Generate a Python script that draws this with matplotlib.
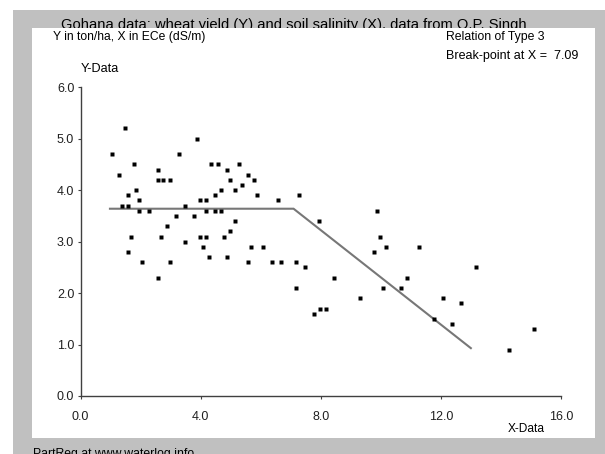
import matplotlib
matplotlib.use("Agg")
import matplotlib.pyplot as plt
from matplotlib.patches import Rectangle

# ---------------- data ----------------
salinity_x = [1.48, 3.89, 1.06, 3.28, 1.77, 2.57, 1.28, 2.57, 2.76, 2.98,
              1.86, 1.58, 1.96, 3.98, 4.17, 1.39, 1.58, 3.47, 1.96, 2.28,
              4.17, 3.18, 3.79, 2.89, 1.67, 2.67, 3.98, 4.17, 3.47, 4.08,
              1.57, 4.27, 2.06, 2.98, 2.57, 4.35, 4.59, 5.26, 4.87, 5.57,
              4.97, 5.76, 5.38, 4.68, 5.15, 4.49, 5.86, 6.56, 7.27, 4.49,
              4.68, 5.15, 4.97, 4.78, 5.67, 6.08, 4.88, 5.57, 6.37, 6.66,
              7.17, 7.46, 7.17, 7.95, 9.86, 9.96, 10.18, 11.26, 9.77, 13.15,
              8.45, 10.88, 10.06, 10.66, 9.29, 12.06, 7.97, 8.16, 7.78, 12.67,
              11.77, 12.35, 15.08, 14.27]
yield_y = [5.2, 5.0, 4.7, 4.7, 4.5, 4.4, 4.3, 4.2, 4.2, 4.2,
           4.0, 3.9, 3.8, 3.8, 3.8, 3.7, 3.7, 3.7, 3.6, 3.6,
           3.6, 3.5, 3.5, 3.3, 3.1, 3.1, 3.1, 3.1, 3.0, 2.9,
           2.8, 2.7, 2.6, 2.6, 2.3, 4.5, 4.5, 4.5, 4.4, 4.3,
           4.2, 4.2, 4.1, 4.0, 4.0, 3.9, 3.9, 3.8, 3.9, 3.6,
           3.6, 3.4, 3.2, 3.1, 2.9, 2.9, 2.7, 2.6, 2.6, 2.6,
           2.6, 2.5, 2.1, 3.4, 3.6, 3.1, 2.9, 2.9, 2.8, 2.5,
           2.3, 2.3, 2.1, 2.1, 1.9, 1.9, 1.7, 1.7, 1.6, 1.8,
           1.5, 1.4, 1.3, 0.9]
fit_x = [0.98, 7.09, 12.99]
fit_y = [3.64, 3.64, 0.93]

x_ticks = [0, 4, 8, 12, 16]
x_ticklabels = ["0.0", "4.0", "8.0", "12.0", "16.0"]
y_ticks = [0, 1, 2, 3, 4, 5, 6]
y_ticklabels = ["0.0", "1.0", "2.0", "3.0", "4.0", "5.0", "6.0"]

title = "Gohana data: wheat yield (Y) and soil salinity (X), data from O.P. Singh"
subtitle = "Y in ton/ha, X in ECe (dS/m)"
relation = "Relation of Type 3"
breakpoint_txt = "Break-point at X =  7.09"
footer = "PartReg at www.waterlog.info"

# ---------------- layout ----------------
W, H = 605, 454
FONT = ["Liberation Sans", "DejaVu Sans"]
plt.rcParams["font.family"] = FONT

fig = plt.figure(figsize=(W / 100, H / 100), dpi=100)
fig.patch.set_facecolor("white")


def fx(x):
    return x / W


def fy(y):
    return 1 - y / H


# gray frame and white panel
fig.patches.append(Rectangle((fx(12.5), 0), 1 - fx(12.5), fy(10), transform=fig.transFigure,
                             facecolor="#c0c0c0", edgecolor="none", zorder=0))
fig.patches.append(Rectangle((fx(32), fy(438)), fx(595) - fx(32), fy(28.3) - fy(438),
                             transform=fig.transFigure, facecolor="white",
                             edgecolor="none", zorder=1))

renderer = fig.canvas.get_renderer()


def fit_text(s, x, y_base, width, zorder=2, ha="left"):
    t = fig.text(fx(x), fy(y_base), s, fontsize=10, ha=ha, va="baseline",
                 color="black", zorder=zorder)
    w = t.get_window_extent(renderer).width
    t.set_fontsize(10 * width / w)
    return t


fit_text(title, 61, 28.5, 465, zorder=0.5)
fit_text(subtitle, 53.3, 40, 153)
fit_text(relation, 446, 40, 99)
fit_text(breakpoint_txt, 446, 59.5, 131.7)
fit_text("Y-Data", 81, 71.5, 38)
fit_text("X-Data", 508, 432.5, 37)
fit_text(footer, 33, 457, 161, zorder=2)

ax = fig.add_axes([fx(80.5), fy(396), fx(561.3) - fx(80.5), fy(87.3) - fy(396)],
                  zorder=3)
ax.patch.set_alpha(0)
ax.set_xlim(0, 16)
ax.set_ylim(0, 6)
ax.set_xticks(x_ticks)
ax.set_xticklabels(x_ticklabels)
ax.set_yticks(y_ticks)
ax.set_yticklabels(y_ticklabels)
for side in ["top", "right"]:
    ax.spines[side].set_visible(False)
for side in ["left", "bottom"]:
    ax.spines[side].set_color("#404040")
    ax.spines[side].set_linewidth(1.0)
ax.tick_params(axis="both", direction="out", length=2.5, width=0.8, color="#404040",
               labelsize=9, labelcolor="#202020")
ax.tick_params(axis="x", pad=8)
ax.tick_params(axis="y", pad=2)

ax.plot(fit_x, fit_y, color="#777777", lw=1.5, solid_joinstyle="miter", zorder=2)
ax.plot(salinity_x, yield_y, linestyle="none", marker="s", ms=2.4,
        mfc="black", mec="none", zorder=3)

fig.savefig("out.png", dpi=100)
